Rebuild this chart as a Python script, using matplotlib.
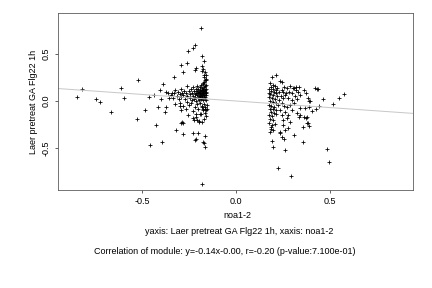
import numpy as np
import matplotlib
matplotlib.use("Agg")
import matplotlib.pyplot as plt

plt.rcParams['font.family'] = ['Liberation Sans', 'DejaVu Sans']

# sparse points of the left group
left_x = [-0.843, -0.817, -0.746, -0.722, -0.663, -0.610, -0.594, -0.521, -0.527, -0.484,
          -0.461, -0.456, -0.434, -0.424, -0.417, -0.403, -0.397, -0.395, -0.386, -0.376,
          -0.371, -0.324, -0.298, -0.294, -0.253, -0.289, -0.284, -0.293, -0.227, -0.191,
          -0.177, -0.165, -0.182, -0.209, -0.195, -0.182, -0.319, -0.284, -0.227, -0.200,
          -0.216, -0.211, -0.165, -0.177, -0.170, -0.165, -0.182, -0.185, -0.220, -0.227,
          -0.254, -0.182, -0.168, -0.262, -0.294, -0.213, -0.218, -0.182, -0.177, -0.182,
          -0.280, -0.168, -0.328, -0.165, -0.174, -0.161, -0.262, -0.211, -0.156]
left_y = [0.039, 0.124, 0.021, -0.011, -0.117, 0.138, 0.032, 0.223, -0.188, -0.096,
          0.043, -0.468, 0.064, -0.259, -0.064, 0.117, 0.025, -0.436, 0.181, -0.117,
          -0.067, -0.035, -0.050, -0.096, -0.149, -0.220, -0.237, -0.237, -0.184, -0.141,
          -0.096, -0.085, -0.061, -0.202, -0.213, -0.227, -0.309, -0.351, -0.337, -0.337,
          -0.415, -0.408, -0.372, -0.433, -0.450, -0.486, -0.886, 0.777, 0.600, 0.567,
          0.535, 0.475, 0.422, 0.404, 0.379, 0.351, 0.333, 0.369, 0.340, 0.316,
          0.305, 0.280, 0.255, 0.227, 0.191, 0.173, 0.156, -0.138, -0.082]

# dense core of the left group
core_x = [-0.265, -0.258, -0.252, -0.247, -0.243, -0.240, -0.236, -0.233, -0.230, -0.227,
          -0.224, -0.222, -0.219, -0.217, -0.215, -0.213, -0.211, -0.209, -0.207, -0.205,
          -0.204, -0.202, -0.200, -0.199, -0.197, -0.196, -0.194, -0.193, -0.191, -0.190,
          -0.189, -0.187, -0.186, -0.185, -0.184, -0.183, -0.182, -0.181, -0.180, -0.179,
          -0.178, -0.177, -0.176, -0.175, -0.174, -0.173, -0.172, -0.171, -0.170, -0.169,
          -0.168, -0.167, -0.166, -0.165, -0.164, -0.163, -0.162, -0.161, -0.160, -0.159,
          -0.158, -0.157, -0.168, -0.162, -0.158, -0.165, -0.170, -0.163, -0.158, -0.166,
          -0.160, -0.172, -0.156, -0.175, -0.345, -0.340, -0.335, -0.328, -0.322, -0.316,
          -0.310, -0.305, -0.300, -0.295, -0.290, -0.285, -0.280, -0.275, -0.270, -0.360,
          -0.370, -0.355, -0.300, -0.280, -0.260, -0.250, -0.240, -0.220, -0.210, -0.190,
          -0.180, -0.265, -0.230, -0.200, -0.185, -0.215, -0.195, -0.225]
core_y = [0.08, 0.05, 0.11, 0.03, 0.07, 0.13, 0.01, 0.09, 0.05, 0.15,
          0.02, 0.11, 0.07, 0.04, 0.13, 0.09, 0.00, 0.06, 0.16, 0.11,
          0.03, 0.08, 0.13, 0.05, 0.10, 0.01, 0.15, 0.07, 0.12, 0.04,
          0.09, 0.17, 0.02, 0.06, 0.11, 0.14, 0.08, 0.03, 0.12, 0.05,
          0.10, 0.18, 0.07, 0.01, 0.13, 0.09, 0.04, 0.15, 0.11, 0.06,
          0.20, 0.02, 0.12, 0.08, 0.16, 0.04, 0.10, 0.23, 0.13, 0.06,
          0.09, 0.01, 0.25, 0.28, 0.22, 0.31, -0.03, -0.06, -0.10, -0.13,
          -0.16, -0.19, -0.04, -0.08, 0.06, 0.09, 0.03, 0.08, 0.12, 0.05,
          0.10, 0.02, 0.07, 0.13, 0.04, 0.09, 0.06, 0.11, 0.02, 0.08,
          0.10, 0.03, -0.02, -0.05, -0.01, -0.04, -0.02, -0.06, -0.03, -0.02,
          -0.05, -0.09, -0.11, -0.09, -0.14, -0.17, -0.22, -0.20]

# right group
right_x = [0.190, 0.215, 0.235, 0.245, 0.180, 0.195, 0.185, 0.205, 0.178, 0.198,
           0.212, 0.188, 0.176, 0.202, 0.220, 0.183, 0.195, 0.210, 0.228, 0.178,
           0.190, 0.205, 0.218, 0.182, 0.196, 0.212, 0.230, 0.177, 0.188, 0.203,
           0.222, 0.180, 0.195, 0.210, 0.185, 0.200, 0.178, 0.192, 0.215, 0.183,
           0.198, 0.176, 0.190, 0.205, 0.184, 0.184, 0.198, 0.180, 0.193, 0.195,
           0.234, 0.245, 0.257, 0.225, 0.294, 0.262, 0.310, 0.278, 0.358, 0.486,
           0.496, 0.270, 0.287, 0.305, 0.319, 0.331, 0.340, 0.385, 0.394, 0.390,
           0.420, 0.432, 0.436, 0.465, 0.550, 0.576, 0.518, 0.443, 0.424, 0.404,
           0.340, 0.367, 0.323, 0.340, 0.372, 0.385, 0.358, 0.376, 0.360, 0.337,
           0.376, 0.390, 0.252, 0.278, 0.296, 0.270, 0.287, 0.296, 0.261, 0.278,
           0.270, 0.287, 0.252, 0.261, 0.234, 0.310, 0.320, 0.333, 0.362, 0.372,
           0.388, 0.250, 0.260, 0.245, 0.255, 0.265, 0.280, 0.300, 0.315, 0.325,
           0.310, 0.245, 0.255, 0.240, 0.235, 0.245, 0.250]
right_y = [0.255, 0.280, 0.210, 0.200, 0.19, 0.17, 0.15, 0.16, 0.13, 0.13,
           0.12, 0.11, 0.09, 0.10, 0.14, 0.07, 0.06, 0.08, 0.10, 0.04,
           0.03, 0.02, 0.05, 0.00, -0.01, -0.02, 0.01, -0.04, -0.05, -0.06,
           -0.04, -0.08, -0.09, -0.10, -0.12, -0.13, -0.15, -0.16, -0.14, -0.19,
           -0.20, -0.23, -0.25, -0.24, -0.28, -0.301, -0.309, -0.33, -0.426, -0.486,
           -0.344, -0.386, -0.401, -0.713, -0.795, -0.521, -0.362, -0.284, -0.436, -0.511,
           -0.652, 0.142, 0.163, 0.142, 0.117, 0.093, 0.064, 0.029, 0.000, -0.060,
           0.135, 0.131, 0.128, 0.021, 0.035, 0.071, -0.035, -0.057, -0.085, -0.106,
           -0.078, -0.078, -0.131, -0.149, -0.184, -0.237, -0.273, -0.173, -0.167, -0.170,
           -0.231, -0.266, 0.029, 0.029, 0.010, -0.060, -0.043, -0.096, -0.114, -0.149,
           -0.184, -0.220, -0.255, -0.309, -0.326, 0.140, 0.146, 0.146, 0.114, 0.082,
           -0.003, 0.10, 0.06, 0.12, 0.15, 0.08, 0.10, 0.08, 0.05, 0.02,
           -0.02, -0.02, -0.05, 0.05, -0.10, -0.15, -0.20]

slope = -0.14
intercept = 0.0

xs = left_x + core_x + right_x
ys = left_y + core_y + right_y

fig = plt.figure(figsize=(6, 4), dpi=72)
ax = fig.add_axes([0.134, 0.34, 0.822, 0.615])

ax.plot(xs, ys, linestyle='none', marker='+', color='black', ms=4.5, mew=0.8)
xl = (-0.947, 0.941)
ax.plot(xl, [slope * v + intercept for v in xl], color='#c8c8c8', lw=1)

ax.set_xlim(xl)
ax.set_ylim(-0.947, 0.936)
ax.set_xticks([-0.5, 0.0, 0.5])
ax.set_yticks([-0.5, 0.0, 0.5])
ax.set_xticklabels(['-0.5', '0.0', '0.5'])
ax.set_yticklabels(['-0.5', '0.0', '0.5'], rotation=90, va='center')
ax.tick_params(labelsize=9, length=3, width=0.6, pad=4, colors='black')
for s in ax.spines.values():
    s.set_color('#555555')
    s.set_linewidth(0.8)

ax.set_ylabel('Laer pretreat GA Flg22 1h', fontsize=9, labelpad=4)
fig.text(237.5 / 432, 1 - 216 / 288, 'noa1-2', fontsize=9, ha='center', va='center')
fig.text(239 / 432, 1 - 232 / 288, 'yaxis: Laer pretreat GA Flg22 1h, xaxis: noa1-2',
         fontsize=9, ha='center', va='center')
fig.text(225 / 432, 1 - 251 / 288,
         'Correlation of module: y=-0.14x-0.00, r=-0.20 (p-value:7.100e-01)',
         fontsize=9, ha='center', va='center')

fig.savefig('out.png', dpi=72)
